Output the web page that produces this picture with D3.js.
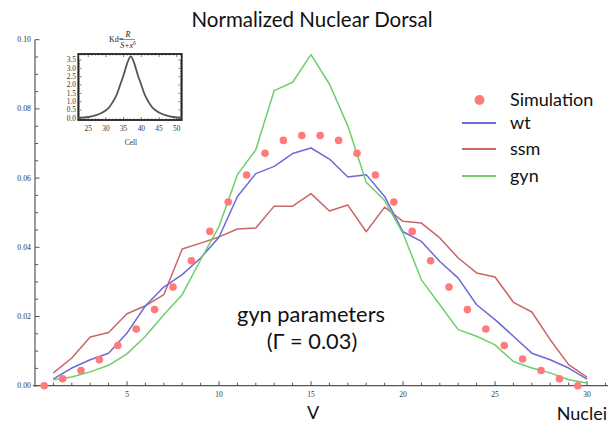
<!DOCTYPE html>
<html><head><meta charset="utf-8">
<script src="https://cdn.jsdelivr.net/npm/d3@7"></script>
<style>
html,body{margin:0;padding:0;background:#fff;}
svg{display:block;}
</style></head>
<body>
<svg id="c" width="608" height="425"></svg>
<script>
// ---------- data ----------
const lineX = [1,2,3,4,5,6,7,8,9,10,11,12,13,14,15,16,17,18,19,20,21,22,23,24,25,26,27,28,29,30];
const simX = [0.5,1.5,2.5,3.5,4.5,5.5,6.5,7.5,8.5,9.5,10.5,11.5,12.5,13.5,14.5,15.5,16.5,17.5,18.5,19.5,20.5,21.5,22.5,23.5,24.5,25.5,26.5,27.5,28.5,29.5];
const simulation = [0.0,0.0020,0.0044,0.0075,0.0116,0.0164,0.0220,0.0285,0.0361,0.0446,0.0531,0.0609,0.0672,0.0709,0.0723,0.0723,0.0709,0.0672,0.0609,0.0531,0.0446,0.0361,0.0285,0.0220,0.0164,0.0116,0.0077,0.0044,0.0020,0.0];
const wt  = [0.0020,0.0051,0.0075,0.0094,0.0152,0.0231,0.0285,0.0321,0.0369,0.0429,0.0547,0.0613,0.0634,0.0671,0.0687,0.0655,0.0603,0.0610,0.0547,0.0445,0.0417,0.0359,0.0311,0.0234,0.0191,0.0143,0.0094,0.0075,0.0051,0.0019];
const ssm = [0.0037,0.0080,0.0141,0.0154,0.0208,0.0231,0.0263,0.0395,0.0412,0.0430,0.0453,0.0456,0.0519,0.0519,0.0555,0.0505,0.0522,0.0445,0.0516,0.0475,0.0470,0.0427,0.0369,0.0326,0.0314,0.0241,0.0213,0.0133,0.0061,0.0025];
const gyn = [0.0017,0.0025,0.0040,0.0059,0.0092,0.0143,0.0205,0.0263,0.0364,0.0460,0.0610,0.0682,0.0853,0.0877,0.0957,0.0872,0.0751,0.0588,0.0535,0.0440,0.0306,0.0234,0.0162,0.0143,0.0118,0.0070,0.0051,0.0037,0.0017,0.0008];
const yTickLabels = ["0.00","0.02","0.04","0.06","0.08","0.10"];
const xTickLabels = ["5","10","15","20","25","30"];
const legendNames = ["Simulation","wt","ssm","gyn"];
// inset (Kd curve)
const insetCell = [22.2,25,27,29,30,31,32,33,34,35,36,37,38,39,40,41,42,43,44,45,47,49,51.4];
const insetKd   = [0.04,0.08,0.18,0.35,0.48,0.68,1.0,1.4,2.0,2.6,3.3,3.72,3.3,2.6,2.0,1.4,1.0,0.68,0.48,0.35,0.18,0.08,0.04];
const insetYTicks = ["0.0","0.5","1.0","1.5","2.0","2.5","3.0","3.5"];
const insetXTicks = ["25","30","35","40","45","50"];

// ---------- drawing ----------
const svg = d3.select("#c");
const colors = {sim:"#ff7a7a", wt:"#6a6ad8", ssm:"#c96666", gyn:"#6ccf6c"};
const x = d3.scaleLinear().domain([0, 31.14]).range([35, 608]);
const y = d3.scaleLinear().domain([0, 0.1]).range([385.7, 39.7]);
const sans = "Lato, 'Open Sans', sans-serif";

// title
svg.append("text").attr("x",312).attr("y",26.5).attr("text-anchor","middle")
  .attr("font-family",sans).attr("font-size",20.5).attr("fill","#111")
  .text("Normalized Nuclear Dorsal");

// x axis
const xa = svg.append("g").attr("transform","translate(0,385.7)");
xa.append("line").attr("x1",33).attr("x2",608).attr("y1",0).attr("y2",0).attr("stroke","#555").attr("stroke-width",1.2);
const xt = d3.range(1,32);
xa.selectAll("line.t").data(xt).join("line").attr("class","t")
  .attr("x1",d=>x(d)).attr("x2",d=>x(d)).attr("y1",0).attr("y2",d=>d%5===0?-4.5:-3)
  .attr("stroke","#555").attr("stroke-width",1);
xa.selectAll("text").data(xTickLabels).join("text")
  .attr("x",d=>x(+d)).attr("y",11).attr("text-anchor","middle")
  .attr("font-family","'Liberation Serif', serif").attr("font-size",7.5).attr("fill","#333").text(d=>d);

// y axis
const ya = svg.append("g");
ya.append("line").attr("x1",35).attr("x2",35).attr("y1",y(0)+1).attr("y2",y(0.1)).attr("stroke","#555").attr("stroke-width",1.2);
const yt = d3.range(0,21).map(i=>i*0.005);
ya.selectAll("line.t").data(yt).join("line").attr("class","t")
  .attr("x1",35).attr("x2",(d,i)=>i%4===0?39.5:38).attr("y1",d=>y(d)).attr("y2",d=>y(d))
  .attr("stroke","#555").attr("stroke-width",1);
ya.selectAll("text").data(yTickLabels).join("text")
  .attr("x",31).attr("y",d=>y(+d)+2.5).attr("text-anchor","end")
  .attr("font-family","'Liberation Serif', serif").attr("font-size",7.8).attr("fill","#333").text(d=>d);

// lines
const line = d3.line().x(d=>x(d[0])).y(d=>y(d[1]));
[["ssm",ssm],["wt",wt],["gyn",gyn]].forEach(([k,arr])=>{
  svg.append("path").datum(lineX.map((v,i)=>[v,arr[i]]))
    .attr("d",line).attr("fill","none").attr("stroke",colors[k]).attr("stroke-width",1.5)
    .attr("stroke-linejoin","round");
});
// simulation dots
svg.selectAll("circle.sim").data(simX.map((v,i)=>[v,simulation[i]])).join("circle")
  .attr("class","sim").attr("cx",d=>x(d[0])).attr("cy",d=>y(d[1])).attr("r",3.8).attr("fill",colors.sim);

// legend
const lg = svg.append("g").attr("font-family",sans).attr("font-size",18).attr("fill","#111");
const legY = [100,123,149,176];
lg.append("circle").attr("cx",479.5).attr("cy",legY[0]).attr("r",5).attr("fill",colors.sim);
[["wt",1],["ssm",2],["gyn",3]].forEach(([k,i])=>{
  lg.append("line").attr("x1",462).attr("x2",496).attr("y1",legY[i]).attr("y2",legY[i])
    .attr("stroke",colors[k]).attr("stroke-width",2.2);
});
legendNames.forEach((n,i)=>{
  lg.append("text").attr("x",510).attr("y",legY[i]+6).text(n);
});

// annotation
const ann = svg.append("g").attr("font-family",sans).attr("font-size",21.8).attr("fill","#111").attr("text-anchor","middle");
ann.append("text").attr("x",311).attr("y",322).text("gyn parameters");
ann.append("text").attr("x",312).attr("y",349).text("(Γ = 0.03)");

// axis titles
svg.append("text").attr("x",313).attr("y",419).attr("text-anchor","middle")
  .attr("font-family",sans).attr("font-size",18).attr("fill","#111").text("V");
svg.append("text").attr("x",607).attr("y",420).attr("text-anchor","end")
  .attr("font-family",sans).attr("font-size",18).attr("fill","#111").text("Nuclei");

// ---------- inset ----------
const ix = d3.scaleLinear().domain([22.2, 51.4]).range([78.3, 181.7]);
const iy = d3.scaleLinear().domain([-0.1, 3.86]).range([120, 54]);
const ins = svg.append("g");
ins.append("rect").attr("x",78.3).attr("y",54).attr("width",103.4).attr("height",66)
  .attr("fill","#fff").attr("stroke","#222").attr("stroke-width",1.8);
const ixt = d3.range(23,52);
ins.selectAll("line.bx").data(ixt).join("line").attr("class","bx")
  .attr("x1",d=>ix(d)).attr("x2",d=>ix(d)).attr("y1",120).attr("y2",d=>d%5===0?117:118.5).attr("stroke","#222").attr("stroke-width",0.6);
ins.selectAll("line.tx").data(ixt).join("line").attr("class","tx")
  .attr("x1",d=>ix(d)).attr("x2",d=>ix(d)).attr("y1",54).attr("y2",d=>d%5===0?57:55.5).attr("stroke","#222").attr("stroke-width",0.6);
const iyt = d3.range(0,36).map(i=>i*0.1);
ins.selectAll("line.ly").data(iyt).join("line").attr("class","ly")
  .attr("y1",d=>iy(d)).attr("y2",d=>iy(d)).attr("x1",78.3).attr("x2",(d,i)=>i%5===0?81.5:80).attr("stroke","#222").attr("stroke-width",0.6);
ins.selectAll("line.ry").data(iyt).join("line").attr("class","ry")
  .attr("y1",d=>iy(d)).attr("y2",d=>iy(d)).attr("x1",181.7).attr("x2",(d,i)=>i%5===0?178.5:180).attr("stroke","#222").attr("stroke-width",0.6);
ins.append("path").datum(insetCell.map((c,i)=>[c,insetKd[i]]))
  .attr("d",d3.line().x(d=>ix(d[0])).y(d=>iy(d[1])).curve(d3.curveMonotoneX))
  .attr("fill","none").attr("stroke","#555").attr("stroke-width",1.8);
ins.selectAll("text.yl").data(insetYTicks).join("text").attr("class","yl")
  .attr("x",76).attr("y",d=>iy(+d)+2.4).attr("text-anchor","end")
  .attr("font-family","'Liberation Serif', serif").attr("font-size",7.4).attr("fill","#333").text(d=>d);
ins.selectAll("text.xl").data(insetXTicks).join("text").attr("class","xl")
  .attr("x",d=>ix(+d)).attr("y",131).attr("text-anchor","middle")
  .attr("font-family","'Liberation Serif', serif").attr("font-size",7.4).attr("fill","#333").text(d=>d);
ins.append("text").attr("x",131).attr("y",145).attr("text-anchor","middle")
  .attr("font-family","'Liberation Serif', serif").attr("font-size",7.4).attr("fill","#333").text("Cell");
// formula
const f = ins.append("g").attr("font-family","'Liberation Serif', serif").attr("font-size",8).attr("fill","#222");
f.append("text").attr("x",109).attr("y",41.5).text("Kd=");
f.append("text").attr("x",128).attr("y",37).attr("text-anchor","middle").attr("font-style","italic").text("R");
f.append("line").attr("x1",121).attr("x2",135).attr("y1",39.5).attr("y2",39.5).attr("stroke","#222").attr("stroke-width",0.5);
const den = f.append("text").attr("x",128).attr("y",47.5).attr("text-anchor","middle").attr("font-style","italic");
den.append("tspan").text("S+x");
den.append("tspan").attr("font-size",5.5).attr("dy",-3).text("6");
</script>
</body></html>
